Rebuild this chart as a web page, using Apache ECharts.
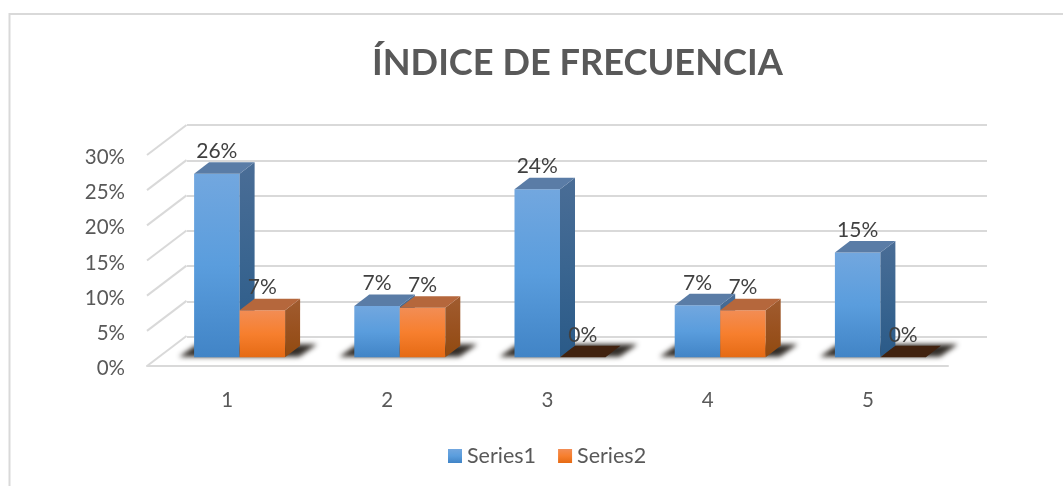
<!DOCTYPE html>
<html><head><meta charset="utf-8">
<style>html,body{margin:0;padding:0;background:#fff}#c{width:1063px;height:486px}</style>
<script src="https://cdn.jsdelivr.net/npm/echarts@6/dist/echarts.min.js"></script>
</head><body><div id="c"></div>
<script>
const categories = ['1','2','3','4','5'];
const series1 = [26.1, 7.3, 23.9, 7.4, 14.9];
const series2 = [6.7, 7.05, 0, 6.7, 0];
const yTicks = [0,5,10,15,20,25,30];
const titleText = 'ÍNDICE DE FRECUENCIA';
const seriesNames = ['Series1','Series2'];

const FONT = 'Lato, "Open Sans", sans-serif';
const grad = (a,b,c)=>new echarts.graphic.LinearGradient(0,0,0,1,[{offset:0,color:a},{offset:.5,color:b},{offset:1,color:c}]);
const palettes = [
  {front:grad('#72a7df','#5a9ddd','#4184c6'), side:grad('#4a6d96','#3a6590','#2a5a88'), top:'#5a7ca6'},
  {front:grad('#f28d55','#f77f2e','#e56a14'), side:grad('#a05c30','#9a5220','#914a10'), top:'#b5673c'}
];
const ZERO_TOP = '#41220f';
// depth of the floor inset and of each bar, in pixels
const INSET_X = 12.5, INSET_Y = 8.7, DEPTH_X = 15, DEPTH_Y = 11.5;

function bar(si){
  return function(params, api){
    const cat = api.value(0), val = api.value(1);
    const base = api.coord([cat,0]), top = api.coord([cat,val]);
    const band = api.size([1,0])[0];
    const w = band*0.284;
    const x0 = base[0]+INSET_X + (si===0 ? -w : 0), x1 = x0+w;
    const yb = base[1]-INSET_Y, yt = top[1]-INSET_Y;
    const p = palettes[si];
    const kids = [];
    const poly = (pts,fill)=>kids.push({type:'polygon',shape:{points:pts},style:{fill}});
    if(val>0){
      poly([[x0,yb],[x1,yb],[x1,yt],[x0,yt]],p.front);
      poly([[x1,yb],[x1+DEPTH_X,yb-DEPTH_Y],[x1+DEPTH_X,yt-DEPTH_Y],[x1,yt]],p.side);
    }
    poly([[x0,yt],[x1,yt],[x1+DEPTH_X,yt-DEPTH_Y],[x0+DEPTH_X,yt-DEPTH_Y]], val>0?p.top:ZERO_TOP);
    kids.push({type:'text',z2:50,style:{text:Math.round(val)+'%',x:(x0+x1)/2,y:yt-22.5,align:'center',verticalAlign:'middle',font:'21px '+FONT,fill:'#404040'}});
    return {type:'group',children:kids};
  };
}
// Soft floor shadow: the shape is parked off-canvas so only its blurred shadow lands on the floor.
const OFF = 3000;
function shadow(params, api){
  const cat = api.value(0);
  const base = api.coord([cat,0]);
  const band = api.size([1,0])[0];
  const w = band*0.284;
  const x0 = base[0]+INSET_X-w, x1 = base[0]+INSET_X+w;
  const yb = base[1]-INSET_Y;
  return {type:'polygon',x:-OFF,shape:{points:[[x0-15,yb-0.5],[x1+14,yb-0.5],[x1+32,yb-13],[x0+3,yb-13]]},
    style:{fill:'#000',shadowBlur:5,shadowOffsetX:OFF,shadowColor:'rgba(40,35,30,0.95)'}};
}
function diagonals(params, api){
  const p = api.coord([0,api.value(1)]);
  const x = p[0]-api.size([1,0])[0]/2;
  return {type:'line',shape:{x1:x,y1:p[1],x2:x+39.5,y2:p[1]-30},style:{stroke:'#d9d9d9',lineWidth:2}};
}

const chart = echarts.init(document.getElementById('c'),null,{renderer:'canvas'});
chart.setOption({
  animation:false,
  backgroundColor:'#fff',
  title:{text:titleText,left:372,top:45,padding:0,textStyle:{fontFamily:FONT,fontSize:36.2,fontWeight:'bold',color:'#595959'}},
  legend:{data:seriesNames,left:448,top:445,itemWidth:14,itemHeight:14,itemGap:22,icon:'rect',padding:0,
    textStyle:{fontFamily:FONT,fontSize:21.5,color:'#595959'}},
  graphic:[{type:'polyline',silent:true,z:0,shape:{points:[[9.5,486],[9.5,14],[1063,14]]},style:{fill:'none',stroke:'#d9d9d9',lineWidth:2}}],
  grid:[
    {left:147,right:115,top:155,bottom:120},
    {left:187,right:76,top:125,bottom:149.5},
    {left:147,right:115,top:157.5,bottom:117.5}
  ],
  xAxis:[
    {type:'category',gridIndex:0,data:categories,axisTick:{show:false},axisLine:{lineStyle:{color:'#d9d9d9',width:2}},
      axisLabel:{fontFamily:FONT,fontSize:20.5,color:'#595959',margin:24}},
    {type:'category',gridIndex:1,data:categories,show:false},
    {type:'category',gridIndex:2,data:categories,show:false}
  ],
  yAxis:[
    {type:'value',gridIndex:0,min:0,max:30,interval:5,splitLine:{show:false},axisLine:{show:false},axisTick:{show:false},axisLabel:{show:false}},
    {type:'value',gridIndex:1,min:0,max:30,interval:5,axisLine:{show:false},axisTick:{show:false},axisLabel:{show:false},
      splitLine:{show:true,lineStyle:{color:'#d9d9d9',width:2}}},
    {type:'value',gridIndex:2,min:0,max:30,interval:5,splitLine:{show:false},axisLine:{show:false},axisTick:{show:false},
      axisLabel:{fontFamily:FONT,fontSize:20.5,color:'#595959',margin:22,formatter:'{value}%'}}
  ],
  series:[
    {type:'custom',xAxisIndex:0,yAxisIndex:0,silent:true,z:1,renderItem:diagonals,data:yTicks.map(v=>[0,v]),clip:false},
    {type:'custom',xAxisIndex:0,yAxisIndex:0,silent:true,z:2,renderItem:shadow,data:categories.map((c,i)=>[i,0]),clip:false},
    {type:'custom',name:seriesNames[0],xAxisIndex:0,yAxisIndex:0,z:3,renderItem:bar(0),itemStyle:{color:palettes[0].front},
      data:series1.map((v,i)=>[i,v]),clip:false},
    {type:'custom',name:seriesNames[1],xAxisIndex:0,yAxisIndex:0,z:4,renderItem:bar(1),itemStyle:{color:palettes[1].front},
      data:series2.map((v,i)=>[i,v]),clip:false}
  ]
});
</script></body></html>
